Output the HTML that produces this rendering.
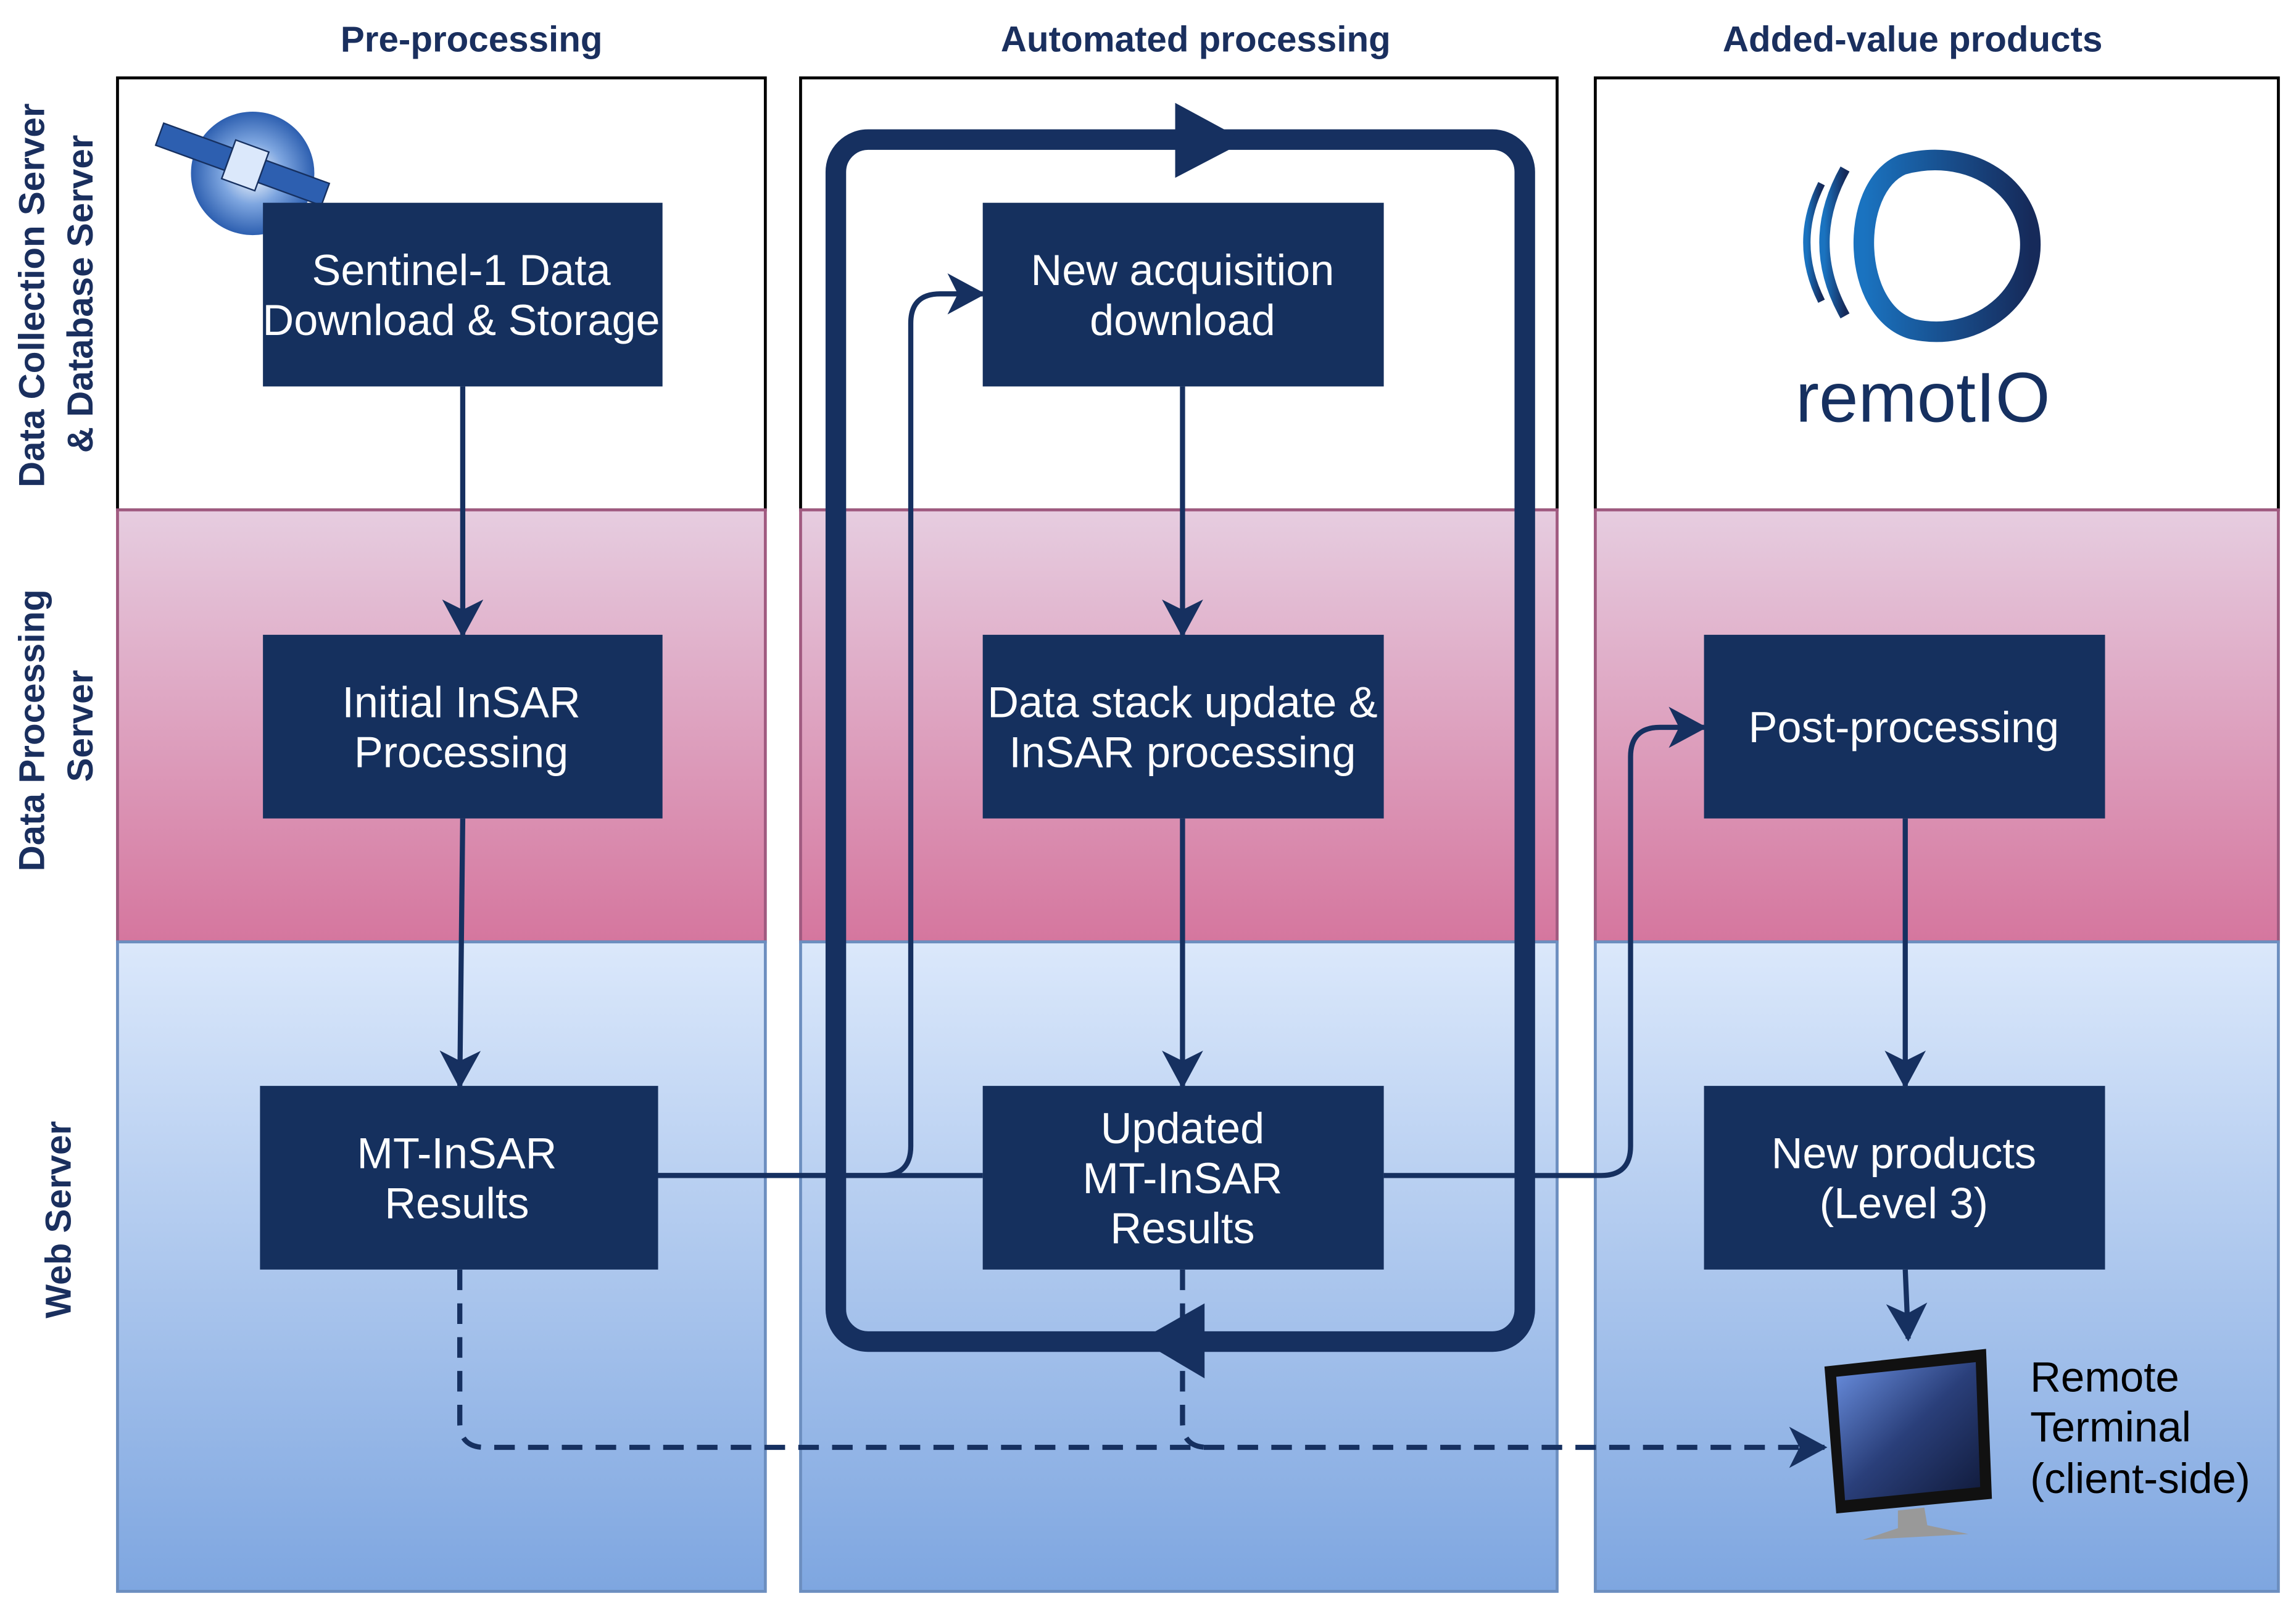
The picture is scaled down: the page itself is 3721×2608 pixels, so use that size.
<!DOCTYPE html>
<html><head><meta charset="utf-8"><style>html,body{margin:0;padding:0;background:#fff}svg{display:block}</style></head>
<body>
<svg width="3721" height="2608" viewBox="0 0 1563 1095" preserveAspectRatio="none" xmlns="http://www.w3.org/2000/svg" font-family="'Liberation Sans', sans-serif">
<defs>
<linearGradient id="pk" x1="0" y1="0" x2="0" y2="1"><stop offset="0" stop-color="#e6cde0"/><stop offset="1" stop-color="#d5769e"/></linearGradient>
<linearGradient id="bl" x1="0" y1="0" x2="0" y2="1"><stop offset="0" stop-color="#dbe8fb"/><stop offset="1" stop-color="#7ea6e0"/></linearGradient>
<linearGradient id="scr" x1="0" y1="0" x2="1" y2="1"><stop offset="0" stop-color="#6a8fe0"/><stop offset="0.5" stop-color="#2a3f7a"/><stop offset="1" stop-color="#101a3a"/></linearGradient>
<radialGradient id="sat" cx="0.5" cy="0.5" r="0.5"><stop offset="0" stop-color="#ffffff"/><stop offset="0.5" stop-color="#7ea6e0"/><stop offset="1" stop-color="#2d5fb0"/></radialGradient>
<linearGradient id="lg" x1="0" y1="0" x2="1" y2="0"><stop offset="0" stop-color="#1a73c0"/><stop offset="1" stop-color="#162a5a"/></linearGradient>
<marker id="ar" markerWidth="26" markerHeight="28" refX="24" refY="14" orient="auto" markerUnits="userSpaceOnUse" viewBox="0 0 26 28"><path d="M0,0 L26,14 L0,28 L7,14 Z" fill="#163060"/></marker>
</defs>
<g font-weight="bold" font-size="24.5" fill="#1a2f5e" text-anchor="middle">
<text x="321" y="35">Pre-processing</text>
<text x="814" y="35">Automated processing</text>
<text x="1302" y="35">Added-value products</text>
<text transform="translate(30,201) rotate(-90)">Data Collection Server</text>
<text transform="translate(63,200) rotate(-90)">&amp; Database Server</text>
<text transform="translate(30,497) rotate(-90)">Data Processing</text>
<text transform="translate(63,494) rotate(-90)">Server</text>
<text transform="translate(48,830) rotate(-90)">Web Server</text>
</g>
<g stroke-width="2">
<rect x="80" y="53" width="441" height="294" fill="#fff" stroke="#000"/>
<rect x="545" y="53" width="515" height="294" fill="#fff" stroke="#000"/>
<rect x="1086" y="53" width="465" height="294" fill="#fff" stroke="#000"/>
<rect x="80" y="347" width="441" height="294" fill="url(#pk)" stroke="#a05a80"/>
<rect x="545" y="347" width="515" height="294" fill="url(#pk)" stroke="#a05a80"/>
<rect x="1086" y="347" width="465" height="294" fill="url(#pk)" stroke="#a05a80"/>
<rect x="80" y="641" width="441" height="442" fill="url(#bl)" stroke="#6c8ebf"/>
<rect x="545" y="641" width="515" height="442" fill="url(#bl)" stroke="#6c8ebf"/>
<rect x="1086" y="641" width="465" height="442" fill="url(#bl)" stroke="#6c8ebf"/>
</g>
<circle cx="172" cy="118" r="42" fill="url(#sat)"/>
<g transform="rotate(20 165 115)">
<rect x="104" y="104" width="50" height="16" fill="#2d5fb0" stroke="#163060"/>
<rect x="178" y="104" width="46" height="16" fill="#2d5fb0" stroke="#163060"/>
<rect x="154" y="98" width="24" height="28" fill="#dbe8fb" stroke="#163060"/>
</g>
<rect x="569" y="95" width="469" height="818" rx="22" fill="none" stroke="#163060" stroke-width="14"/>
<path d="M800,70 L848,96 L800,121 Z" fill="#163060"/>
<path d="M820,887 L776,912 L820,938 Z" fill="#163060"/>
<g stroke="#163060" stroke-width="3.5" fill="none">
<line x1="315" y1="263" x2="315" y2="432" marker-end="url(#ar)"/>
<line x1="315" y1="557" x2="313" y2="739" marker-end="url(#ar)"/>
<line x1="805" y1="263" x2="805" y2="432" marker-end="url(#ar)"/>
<line x1="805" y1="557" x2="805" y2="739" marker-end="url(#ar)"/>
<line x1="1297" y1="557" x2="1297" y2="739" marker-end="url(#ar)"/>
<line x1="1297" y1="864" x2="1299" y2="911" marker-end="url(#ar)"/>
<path d="M448,800 L669,800"/>
<path d="M448,800 L600,800 Q620,800 620,780 L620,220 Q620,200 640,200 L669,200" marker-end="url(#ar)"/>
<path d="M942,800 L1090,800 Q1110,800 1110,780 L1110,515 Q1110,495 1130,495 L1160,495" marker-end="url(#ar)"/>
<path d="M313,864 L313,968 Q313,985 330,985 L1242,985" stroke-dasharray="14,9" marker-end="url(#ar)"/>
<path d="M805,864 L805,968 Q805,985 822,985" stroke-dasharray="14,9"/>
</g>
<g fill="#15305e">
<rect x="179" y="138" width="272" height="125"/>
<rect x="179" y="432" width="272" height="125"/>
<rect x="177" y="739" width="271" height="125"/>
<rect x="669" y="138" width="273" height="125"/>
<rect x="669" y="432" width="273" height="125"/>
<rect x="669" y="739" width="273" height="125"/>
<rect x="1160" y="432" width="273" height="125"/>
<rect x="1160" y="739" width="273" height="125"/>
</g>
<g fill="#fff" font-size="29.5" text-anchor="middle">
<text x="314" y="194">Sentinel-1 Data</text><text x="314" y="228">Download &amp; Storage</text>
<text x="314" y="488">Initial InSAR</text><text x="314" y="522">Processing</text>
<text x="311" y="795">MT-InSAR</text><text x="311" y="829">Results</text>
<text x="805" y="194">New acquisition</text><text x="805" y="228">download</text>
<text x="805" y="488">Data stack update &amp;</text><text x="805" y="522">InSAR processing</text>
<text x="805" y="778">Updated</text><text x="805" y="812">MT-InSAR</text><text x="805" y="846">Results</text>
<text x="1296" y="505">Post-processing</text>
<text x="1296" y="795">New products</text><text x="1296" y="829">(Level 3)</text>
</g>
<path d="M1242,930 L1352,918 L1356,1020 L1250,1030 Z" fill="#111"/>
<path d="M1250,937 L1345,927 L1348,1012 L1256,1021 Z" fill="url(#scr)"/>
<path d="M1292,1028 L1310,1026 L1312,1038 L1340,1044 L1268,1048 L1292,1040 Z" fill="#999"/>
<g font-size="29" fill="#000">
<text x="1382" y="947">Remote</text><text x="1382" y="981">Terminal</text><text x="1382" y="1016">(client-side)</text>
</g>
<g fill="none" stroke="url(#lg)">
<path d="M1240,125 Q1220,165 1240,205" stroke-width="5"/>
<path d="M1256,115 Q1228,165 1256,215" stroke-width="7"/>
<path d="M1295,112 C1258,128 1260,212 1302,224 C1348,234 1385,200 1382,162 C1379,124 1338,100 1295,112 Z" stroke-width="14"/>
</g>
<text x="1309" y="287" font-size="48" fill="#163060" text-anchor="middle">remotIO</text>
</svg>
</body></html>
